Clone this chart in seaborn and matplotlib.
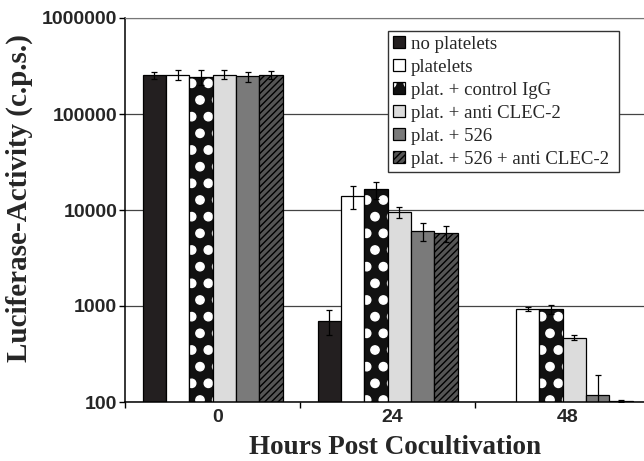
import numpy as np
import pandas as pd
import matplotlib as mplt
mplt.use('Agg')
import matplotlib.pyplot as plt
import matplotlib.hatch as mhatch
import matplotlib.ticker as mticker
import matplotlib.transforms as mtrans
import seaborn as sns

# big filled dots for the "control IgG" bars (re-using the '*' hatch slot)
class BigDots(mhatch.Circles):
    size = 0.25
    filled = True
    def __init__(self, hatch, density):
        self.num_rows = hatch.count('*') * density
        super().__init__(hatch, density)

mhatch._hatch_types = [h for h in mhatch._hatch_types if h is not mhatch.Stars] + [BigDots]

sns.set_style('white')
mplt.rcParams['font.family'] = ['Liberation Sans', 'DejaVu Sans']
mplt.rcParams['hatch.linewidth'] = 1.0

# data
hours = ['0', '24', '48']
conditions = ['no platelets', 'platelets', 'plat. + control IgG',
              'plat. + anti CLEC-2', 'plat. + 526', 'plat. + 526 + anti CLEC-2']
no_plt = [253000, 700, np.nan]
plt_only = [255000, 14000, 938]
ctrl_igg = [243000, 16400, 922]
anti_clec = [257000, 9460, 468]
p526 = [247000, 6100, 119]
p526_anti = [255000, 5720, 103]
no_plt_err = [23000, 200, 0]
plt_only_err = [30000, 3700, 50]
ctrl_igg_err = [42000, 3300, 100]
anti_clec_err = [28000, 1300, 30]
p526_err = [29000, 1300, 73]
p526_anti_err = [25000, 1100, 2]

means = [no_plt, plt_only, ctrl_igg, anti_clec, p526, p526_anti]
errs = [no_plt_err, plt_only_err, ctrl_igg_err, anti_clec_err, p526_err, p526_anti_err]

rows = []
for cond, m, e in zip(conditions, means, errs):
    for h, v, s in zip(hours, m, e):
        rows.append({'Hours': h, 'cond': cond, 'val': v, 'err': s})
df = pd.DataFrame(rows)

colors = {'no platelets': '#231f20', 'platelets': '#ffffff', 'plat. + control IgG': '#111111',
          'plat. + anti CLEC-2': '#dcdcdc', 'plat. + 526': '#7a7a7a',
          'plat. + 526 + anti CLEC-2': '#555555'}

fig = plt.figure(figsize=(6.44, 4.61), dpi=100)
ax = fig.add_axes([125/644, 59/461, 519/644, 384/461])
ax.set_yscale('log')

sns.barplot(data=df, x='Hours', y='val', hue='cond', order=hours, hue_order=conditions,
            palette=colors, saturation=1, edgecolor='black', linewidth=0.9,
            errorbar=None, ax=ax, legend=False)

# hatches + error bars
for cont, cond in zip(ax.containers, conditions):
    for p in cont.patches:
        if cond == 'plat. + control IgG':
            p.set_hatch('*')
            p._hatch_color = (1, 1, 1, 1)
        elif cond == 'plat. + 526 + anti CLEC-2':
            p.set_hatch('/////')
        xc = p.get_x() + p.get_width() / 2
        h = p.get_height()
        if not np.isfinite(h):
            continue
        s = df.loc[(df['cond'] == cond) & (df['Hours'] == hours[int(round(xc))]), 'err'].iloc[0]
        if s > 0:
            ax.errorbar(xc, h, yerr=s, fmt='none', ecolor='black', elinewidth=0.9,
                        capsize=2.5, capthick=0.9, zorder=5)

ax.set_ylim(100, 1e6)
ax.set_xlim(-0.5, -0.5 + 519/175)
ax.yaxis.set_major_locator(mticker.FixedLocator([100, 1000, 10000, 100000, 1000000]))
ax.yaxis.set_minor_locator(mticker.NullLocator())
ax.yaxis.set_major_formatter(mticker.FuncFormatter(lambda v, pos: f'{int(round(v))}'))
ax.yaxis.grid(True, color='#444444', lw=0.9)
ax.set_axisbelow(True)

ax.xaxis.set_minor_locator(mticker.FixedLocator([-0.5, 0.5, 1.5]))
ax.tick_params(axis='x', which='major', length=0, pad=5)
ax.tick_params(axis='x', which='minor', length=4, width=1, direction='out', color='black', bottom=True)
ax.tick_params(axis='y', length=4, width=1, direction='out', color='black', left=True, pad=1.5)
shift = mtrans.ScaledTranslation(5/100, 0, fig.dpi_scale_trans)
for lab in ax.get_xticklabels():
    lab.set_transform(lab.get_transform() + shift)
for lab in ax.get_xticklabels() + ax.get_yticklabels():
    lab.set_fontweight('bold')
    lab.set_fontsize(14)

for sp in ['left', 'bottom']:
    ax.spines[sp].set_color('black')
    ax.spines[sp].set_linewidth(1.1)
ax.spines['top'].set_color('#777777')
ax.spines['right'].set_visible(False)

ax.set_xlabel('Hours Post Cocultivation', family='Liberation Serif', fontweight='bold',
              fontsize=19.5)
ax.xaxis.set_label_coords(0.52, -0.087)
ax.xaxis.label.set_va('top')
ax.set_ylabel('Luciferase-Activity (c.p.s.)', family='Liberation Serif', fontweight='bold',
              fontsize=21)
ax.yaxis.set_label_coords(-0.177, 0.531)

leg = ax.legend(handles=list(ax.containers), labels=conditions, loc='upper left',
                bbox_to_anchor=(0.507, 0.0, (619 - 388) / 519, 0.966), mode='expand',
                frameon=True, fancybox=False,
                prop={'family': 'Liberation Serif', 'size': 13.5},
                handlelength=0.65, handleheight=0.65, handletextpad=0.3,
                labelspacing=0.32, borderpad=0.25, borderaxespad=0)
leg.get_frame().set_edgecolor('#333333')
leg.get_frame().set_linewidth(1)
leg.get_frame().set_alpha(1)

fig.savefig('out.png', dpi=100)
